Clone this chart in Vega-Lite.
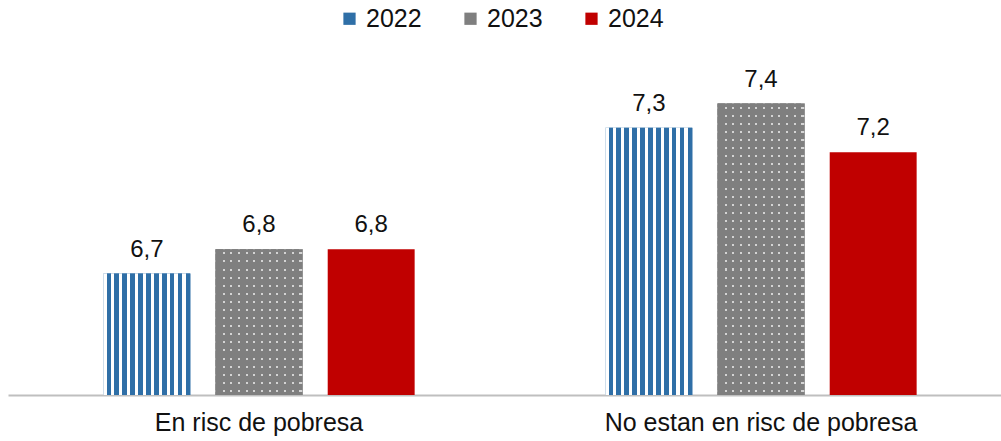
{
  "$schema": "https://vega.github.io/schema/vega-lite/v6.json",
  "width": 1004,
  "height": 340,
  "autosize": "none",
  "padding": {"left": 8, "right": -11, "top": 55, "bottom": 46},
  "background": "#ffffff",
  "data": {"values": [
    {"cat": "En risc de pobresa", "year": "2022", "value": 6.7},
    {"cat": "En risc de pobresa", "year": "2023", "value": 6.8},
    {"cat": "En risc de pobresa", "year": "2024", "value": 6.8},
    {"cat": "No estan en risc de pobresa", "year": "2022", "value": 7.3},
    {"cat": "No estan en risc de pobresa", "year": "2023", "value": 7.4},
    {"cat": "No estan en risc de pobresa", "year": "2024", "value": 7.2}
  ]},
  "encoding": {
    "x": {"field": "cat", "type": "nominal", "sort": null,
      "scale": {"paddingInner": 0, "paddingOuter": 0},
      "axis": {"title": null, "domain": true, "domainColor": "#BFBFBF", "domainWidth": 2, "ticks": false, "labelFontSize": 25, "labelPadding": 15, "labelAngle": 0, "labelColor": "#111111", "labelFont": "Liberation Sans", "labelLimit": 600, "grid": false}},
    "xOffset": {"field": "year", "type": "nominal", "sort": null,
      "scale": {"paddingInner": 0.225, "paddingOuter": 0.85}},
    "y": {"field": "value", "type": "quantitative",
      "scale": {"domain": [6.2, 7.6], "zero": false, "nice": false},
      "axis": null},
    "y2": {"datum": 6.2}
  },
  "layer": [
    {
      "mark": {"type": "bar"},
      "encoding": {
        "color": {"field": "year", "type": "nominal",
          "scale": {"domain": ["2022", "2023", "2024"], "range": ["#2F6FA7", "#7F7F7F", "#C00000"]},
          "legend": {"title": null, "orient": "none", "legendX": 329, "legendY": -49, "direction": "horizontal", "symbolType": "square", "symbolSize": 150, "symbolStrokeWidth": 0, "labelFontSize": 25, "labelFont": "Liberation Sans", "labelColor": "#111111", "columnPadding": 36, "labelOffset": 4}}
      }
    },
    {
      "transform": [{"filter": "datum.year === '2022'"}],
      "mark": {"type": "bar", "fill": {"gradient": "linear", "x1": 0, "y1": 0, "x2": 1, "y2": 0, "stops": [
        {"offset": 0, "color": "#ffffff"}, {"offset": 0.0364, "color": "#ffffff"}, {"offset": 0.0364, "color": "#2F6FA7"}, {"offset": 0.0909, "color": "#2F6FA7"},
        {"offset": 0.0909, "color": "#ffffff"}, {"offset": 0.1273, "color": "#ffffff"}, {"offset": 0.1273, "color": "#2F6FA7"}, {"offset": 0.1818, "color": "#2F6FA7"},
        {"offset": 0.1818, "color": "#ffffff"}, {"offset": 0.2182, "color": "#ffffff"}, {"offset": 0.2182, "color": "#2F6FA7"}, {"offset": 0.2727, "color": "#2F6FA7"},
        {"offset": 0.2727, "color": "#ffffff"}, {"offset": 0.3091, "color": "#ffffff"}, {"offset": 0.3091, "color": "#2F6FA7"}, {"offset": 0.3636, "color": "#2F6FA7"},
        {"offset": 0.3636, "color": "#ffffff"}, {"offset": 0.4, "color": "#ffffff"}, {"offset": 0.4, "color": "#2F6FA7"}, {"offset": 0.4545, "color": "#2F6FA7"},
        {"offset": 0.4545, "color": "#ffffff"}, {"offset": 0.4909, "color": "#ffffff"}, {"offset": 0.4909, "color": "#2F6FA7"}, {"offset": 0.5455, "color": "#2F6FA7"},
        {"offset": 0.5455, "color": "#ffffff"}, {"offset": 0.5818, "color": "#ffffff"}, {"offset": 0.5818, "color": "#2F6FA7"}, {"offset": 0.6364, "color": "#2F6FA7"},
        {"offset": 0.6364, "color": "#ffffff"}, {"offset": 0.6727, "color": "#ffffff"}, {"offset": 0.6727, "color": "#2F6FA7"}, {"offset": 0.7273, "color": "#2F6FA7"},
        {"offset": 0.7273, "color": "#ffffff"}, {"offset": 0.7636, "color": "#ffffff"}, {"offset": 0.7636, "color": "#2F6FA7"}, {"offset": 0.8182, "color": "#2F6FA7"},
        {"offset": 0.8182, "color": "#ffffff"}, {"offset": 0.8545, "color": "#ffffff"}, {"offset": 0.8545, "color": "#2F6FA7"}, {"offset": 0.9091, "color": "#2F6FA7"},
        {"offset": 0.9091, "color": "#ffffff"}, {"offset": 0.9455, "color": "#ffffff"}, {"offset": 0.9455, "color": "#2F6FA7"}, {"offset": 1, "color": "#2F6FA7"}
      ]}}
    },
    {
      "transform": [{"filter": "datum.year === '2023'"}],
      "mark": {"type": "bar", "fill": {"gradient": "linear", "x1": 0, "y1": 0, "x2": 1, "y2": 0, "stops": [
        {"offset": 0, "color": "#7F7F7F"},
        {"offset": 0.081, "color": "#7F7F7F"}, {"offset": 0.081, "color": "#D4D4D4"}, {"offset": 0.105, "color": "#D4D4D4"}, {"offset": 0.105, "color": "#7F7F7F"},
        {"offset": 0.169, "color": "#7F7F7F"}, {"offset": 0.169, "color": "#D4D4D4"}, {"offset": 0.193, "color": "#D4D4D4"}, {"offset": 0.193, "color": "#7F7F7F"},
        {"offset": 0.258, "color": "#7F7F7F"}, {"offset": 0.258, "color": "#D4D4D4"}, {"offset": 0.282, "color": "#D4D4D4"}, {"offset": 0.282, "color": "#7F7F7F"},
        {"offset": 0.346, "color": "#7F7F7F"}, {"offset": 0.346, "color": "#D4D4D4"}, {"offset": 0.370, "color": "#D4D4D4"}, {"offset": 0.370, "color": "#7F7F7F"},
        {"offset": 0.435, "color": "#7F7F7F"}, {"offset": 0.435, "color": "#D4D4D4"}, {"offset": 0.459, "color": "#D4D4D4"}, {"offset": 0.459, "color": "#7F7F7F"},
        {"offset": 0.523, "color": "#7F7F7F"}, {"offset": 0.523, "color": "#D4D4D4"}, {"offset": 0.547, "color": "#D4D4D4"}, {"offset": 0.547, "color": "#7F7F7F"},
        {"offset": 0.611, "color": "#7F7F7F"}, {"offset": 0.611, "color": "#D4D4D4"}, {"offset": 0.635, "color": "#D4D4D4"}, {"offset": 0.635, "color": "#7F7F7F"},
        {"offset": 0.700, "color": "#7F7F7F"}, {"offset": 0.700, "color": "#D4D4D4"}, {"offset": 0.724, "color": "#D4D4D4"}, {"offset": 0.724, "color": "#7F7F7F"},
        {"offset": 0.788, "color": "#7F7F7F"}, {"offset": 0.788, "color": "#D4D4D4"}, {"offset": 0.812, "color": "#D4D4D4"}, {"offset": 0.812, "color": "#7F7F7F"},
        {"offset": 0.877, "color": "#7F7F7F"}, {"offset": 0.877, "color": "#D4D4D4"}, {"offset": 0.901, "color": "#D4D4D4"}, {"offset": 0.901, "color": "#7F7F7F"},
        {"offset": 0.965, "color": "#7F7F7F"}, {"offset": 0.965, "color": "#D4D4D4"}, {"offset": 0.989, "color": "#D4D4D4"}, {"offset": 0.989, "color": "#7F7F7F"},
        {"offset": 1, "color": "#7F7F7F"}
      ]}}
    },
    {
      "transform": [{"filter": "datum.year === '2023' && datum.cat === 'En risc de pobresa'"}],
      "mark": {"type": "bar", "fill": {"gradient": "linear", "x1": 0, "y1": 0, "x2": 0, "y2": 1, "stops": [
        {"offset": 0, "color": "#7F7F7F"},
        {"offset": 0.0209, "color": "#7F7F7F"}, {"offset": 0.0209, "color": "rgba(127,127,127,0)"}, {"offset": 0.0347, "color": "rgba(127,127,127,0)"}, {"offset": 0.0347, "color": "#7F7F7F"},
        {"offset": 0.0764, "color": "#7F7F7F"}, {"offset": 0.0764, "color": "rgba(127,127,127,0)"}, {"offset": 0.0902, "color": "rgba(127,127,127,0)"}, {"offset": 0.0902, "color": "#7F7F7F"},
        {"offset": 0.1320, "color": "#7F7F7F"}, {"offset": 0.1320, "color": "rgba(127,127,127,0)"}, {"offset": 0.1458, "color": "rgba(127,127,127,0)"}, {"offset": 0.1458, "color": "#7F7F7F"},
        {"offset": 0.1875, "color": "#7F7F7F"}, {"offset": 0.1875, "color": "rgba(127,127,127,0)"}, {"offset": 0.2013, "color": "rgba(127,127,127,0)"}, {"offset": 0.2013, "color": "#7F7F7F"},
        {"offset": 0.2431, "color": "#7F7F7F"}, {"offset": 0.2431, "color": "rgba(127,127,127,0)"}, {"offset": 0.2569, "color": "rgba(127,127,127,0)"}, {"offset": 0.2569, "color": "#7F7F7F"},
        {"offset": 0.2987, "color": "#7F7F7F"}, {"offset": 0.2987, "color": "rgba(127,127,127,0)"}, {"offset": 0.3125, "color": "rgba(127,127,127,0)"}, {"offset": 0.3125, "color": "#7F7F7F"},
        {"offset": 0.3542, "color": "#7F7F7F"}, {"offset": 0.3542, "color": "rgba(127,127,127,0)"}, {"offset": 0.3680, "color": "rgba(127,127,127,0)"}, {"offset": 0.3680, "color": "#7F7F7F"},
        {"offset": 0.4098, "color": "#7F7F7F"}, {"offset": 0.4098, "color": "rgba(127,127,127,0)"}, {"offset": 0.4236, "color": "rgba(127,127,127,0)"}, {"offset": 0.4236, "color": "#7F7F7F"},
        {"offset": 0.4653, "color": "#7F7F7F"}, {"offset": 0.4653, "color": "rgba(127,127,127,0)"}, {"offset": 0.4791, "color": "rgba(127,127,127,0)"}, {"offset": 0.4791, "color": "#7F7F7F"},
        {"offset": 0.5209, "color": "#7F7F7F"}, {"offset": 0.5209, "color": "rgba(127,127,127,0)"}, {"offset": 0.5347, "color": "rgba(127,127,127,0)"}, {"offset": 0.5347, "color": "#7F7F7F"},
        {"offset": 0.5764, "color": "#7F7F7F"}, {"offset": 0.5764, "color": "rgba(127,127,127,0)"}, {"offset": 0.5902, "color": "rgba(127,127,127,0)"}, {"offset": 0.5902, "color": "#7F7F7F"},
        {"offset": 0.6320, "color": "#7F7F7F"}, {"offset": 0.6320, "color": "rgba(127,127,127,0)"}, {"offset": 0.6458, "color": "rgba(127,127,127,0)"}, {"offset": 0.6458, "color": "#7F7F7F"},
        {"offset": 0.6875, "color": "#7F7F7F"}, {"offset": 0.6875, "color": "rgba(127,127,127,0)"}, {"offset": 0.7013, "color": "rgba(127,127,127,0)"}, {"offset": 0.7013, "color": "#7F7F7F"},
        {"offset": 0.7431, "color": "#7F7F7F"}, {"offset": 0.7431, "color": "rgba(127,127,127,0)"}, {"offset": 0.7569, "color": "rgba(127,127,127,0)"}, {"offset": 0.7569, "color": "#7F7F7F"},
        {"offset": 0.7987, "color": "#7F7F7F"}, {"offset": 0.7987, "color": "rgba(127,127,127,0)"}, {"offset": 0.8125, "color": "rgba(127,127,127,0)"}, {"offset": 0.8125, "color": "#7F7F7F"},
        {"offset": 0.8542, "color": "#7F7F7F"}, {"offset": 0.8542, "color": "rgba(127,127,127,0)"}, {"offset": 0.8680, "color": "rgba(127,127,127,0)"}, {"offset": 0.8680, "color": "#7F7F7F"},
        {"offset": 0.9098, "color": "#7F7F7F"}, {"offset": 0.9098, "color": "rgba(127,127,127,0)"}, {"offset": 0.9236, "color": "rgba(127,127,127,0)"}, {"offset": 0.9236, "color": "#7F7F7F"},
        {"offset": 0.9653, "color": "#7F7F7F"}, {"offset": 0.9653, "color": "rgba(127,127,127,0)"}, {"offset": 0.9791, "color": "rgba(127,127,127,0)"}, {"offset": 0.9791, "color": "#7F7F7F"},
        {"offset": 1, "color": "#7F7F7F"}
      ]}}
    },
    {
      "transform": [{"filter": "datum.year === '2023' && datum.cat === 'No estan en risc de pobresa'"}],
      "mark": {"type": "bar", "fill": {"gradient": "linear", "x1": 0, "y1": 0, "x2": 0, "y2": 1, "stops": [
        {"offset": 0, "color": "#7F7F7F"},
        {"offset": 0.0104, "color": "#7F7F7F"}, {"offset": 0.0104, "color": "rgba(127,127,127,0)"}, {"offset": 0.0174, "color": "rgba(127,127,127,0)"}, {"offset": 0.0174, "color": "#7F7F7F"},
        {"offset": 0.0382, "color": "#7F7F7F"}, {"offset": 0.0382, "color": "rgba(127,127,127,0)"}, {"offset": 0.0452, "color": "rgba(127,127,127,0)"}, {"offset": 0.0452, "color": "#7F7F7F"},
        {"offset": 0.0659, "color": "#7F7F7F"}, {"offset": 0.0659, "color": "rgba(127,127,127,0)"}, {"offset": 0.0729, "color": "rgba(127,127,127,0)"}, {"offset": 0.0729, "color": "#7F7F7F"},
        {"offset": 0.0937, "color": "#7F7F7F"}, {"offset": 0.0937, "color": "rgba(127,127,127,0)"}, {"offset": 0.1007, "color": "rgba(127,127,127,0)"}, {"offset": 0.1007, "color": "#7F7F7F"},
        {"offset": 0.1215, "color": "#7F7F7F"}, {"offset": 0.1215, "color": "rgba(127,127,127,0)"}, {"offset": 0.1285, "color": "rgba(127,127,127,0)"}, {"offset": 0.1285, "color": "#7F7F7F"},
        {"offset": 0.1493, "color": "#7F7F7F"}, {"offset": 0.1493, "color": "rgba(127,127,127,0)"}, {"offset": 0.1563, "color": "rgba(127,127,127,0)"}, {"offset": 0.1563, "color": "#7F7F7F"},
        {"offset": 0.1771, "color": "#7F7F7F"}, {"offset": 0.1771, "color": "rgba(127,127,127,0)"}, {"offset": 0.1841, "color": "rgba(127,127,127,0)"}, {"offset": 0.1841, "color": "#7F7F7F"},
        {"offset": 0.2048, "color": "#7F7F7F"}, {"offset": 0.2048, "color": "rgba(127,127,127,0)"}, {"offset": 0.2118, "color": "rgba(127,127,127,0)"}, {"offset": 0.2118, "color": "#7F7F7F"},
        {"offset": 0.2326, "color": "#7F7F7F"}, {"offset": 0.2326, "color": "rgba(127,127,127,0)"}, {"offset": 0.2396, "color": "rgba(127,127,127,0)"}, {"offset": 0.2396, "color": "#7F7F7F"},
        {"offset": 0.2604, "color": "#7F7F7F"}, {"offset": 0.2604, "color": "rgba(127,127,127,0)"}, {"offset": 0.2674, "color": "rgba(127,127,127,0)"}, {"offset": 0.2674, "color": "#7F7F7F"},
        {"offset": 0.2882, "color": "#7F7F7F"}, {"offset": 0.2882, "color": "rgba(127,127,127,0)"}, {"offset": 0.2952, "color": "rgba(127,127,127,0)"}, {"offset": 0.2952, "color": "#7F7F7F"},
        {"offset": 0.3159, "color": "#7F7F7F"}, {"offset": 0.3159, "color": "rgba(127,127,127,0)"}, {"offset": 0.3229, "color": "rgba(127,127,127,0)"}, {"offset": 0.3229, "color": "#7F7F7F"},
        {"offset": 0.3437, "color": "#7F7F7F"}, {"offset": 0.3437, "color": "rgba(127,127,127,0)"}, {"offset": 0.3507, "color": "rgba(127,127,127,0)"}, {"offset": 0.3507, "color": "#7F7F7F"},
        {"offset": 0.3715, "color": "#7F7F7F"}, {"offset": 0.3715, "color": "rgba(127,127,127,0)"}, {"offset": 0.3785, "color": "rgba(127,127,127,0)"}, {"offset": 0.3785, "color": "#7F7F7F"},
        {"offset": 0.3993, "color": "#7F7F7F"}, {"offset": 0.3993, "color": "rgba(127,127,127,0)"}, {"offset": 0.4063, "color": "rgba(127,127,127,0)"}, {"offset": 0.4063, "color": "#7F7F7F"},
        {"offset": 0.4271, "color": "#7F7F7F"}, {"offset": 0.4271, "color": "rgba(127,127,127,0)"}, {"offset": 0.4341, "color": "rgba(127,127,127,0)"}, {"offset": 0.4341, "color": "#7F7F7F"},
        {"offset": 0.4548, "color": "#7F7F7F"}, {"offset": 0.4548, "color": "rgba(127,127,127,0)"}, {"offset": 0.4618, "color": "rgba(127,127,127,0)"}, {"offset": 0.4618, "color": "#7F7F7F"},
        {"offset": 0.4826, "color": "#7F7F7F"}, {"offset": 0.4826, "color": "rgba(127,127,127,0)"}, {"offset": 0.4896, "color": "rgba(127,127,127,0)"}, {"offset": 0.4896, "color": "#7F7F7F"},
        {"offset": 0.5104, "color": "#7F7F7F"}, {"offset": 0.5104, "color": "rgba(127,127,127,0)"}, {"offset": 0.5174, "color": "rgba(127,127,127,0)"}, {"offset": 0.5174, "color": "#7F7F7F"},
        {"offset": 0.5382, "color": "#7F7F7F"}, {"offset": 0.5382, "color": "rgba(127,127,127,0)"}, {"offset": 0.5452, "color": "rgba(127,127,127,0)"}, {"offset": 0.5452, "color": "#7F7F7F"},
        {"offset": 0.5659, "color": "#7F7F7F"}, {"offset": 0.5659, "color": "rgba(127,127,127,0)"}, {"offset": 0.5729, "color": "rgba(127,127,127,0)"}, {"offset": 0.5729, "color": "#7F7F7F"},
        {"offset": 0.5937, "color": "#7F7F7F"}, {"offset": 0.5937, "color": "rgba(127,127,127,0)"}, {"offset": 0.6007, "color": "rgba(127,127,127,0)"}, {"offset": 0.6007, "color": "#7F7F7F"},
        {"offset": 0.6215, "color": "#7F7F7F"}, {"offset": 0.6215, "color": "rgba(127,127,127,0)"}, {"offset": 0.6285, "color": "rgba(127,127,127,0)"}, {"offset": 0.6285, "color": "#7F7F7F"},
        {"offset": 0.6493, "color": "#7F7F7F"}, {"offset": 0.6493, "color": "rgba(127,127,127,0)"}, {"offset": 0.6563, "color": "rgba(127,127,127,0)"}, {"offset": 0.6563, "color": "#7F7F7F"},
        {"offset": 0.6771, "color": "#7F7F7F"}, {"offset": 0.6771, "color": "rgba(127,127,127,0)"}, {"offset": 0.6841, "color": "rgba(127,127,127,0)"}, {"offset": 0.6841, "color": "#7F7F7F"},
        {"offset": 0.7048, "color": "#7F7F7F"}, {"offset": 0.7048, "color": "rgba(127,127,127,0)"}, {"offset": 0.7118, "color": "rgba(127,127,127,0)"}, {"offset": 0.7118, "color": "#7F7F7F"},
        {"offset": 0.7326, "color": "#7F7F7F"}, {"offset": 0.7326, "color": "rgba(127,127,127,0)"}, {"offset": 0.7396, "color": "rgba(127,127,127,0)"}, {"offset": 0.7396, "color": "#7F7F7F"},
        {"offset": 0.7604, "color": "#7F7F7F"}, {"offset": 0.7604, "color": "rgba(127,127,127,0)"}, {"offset": 0.7674, "color": "rgba(127,127,127,0)"}, {"offset": 0.7674, "color": "#7F7F7F"},
        {"offset": 0.7882, "color": "#7F7F7F"}, {"offset": 0.7882, "color": "rgba(127,127,127,0)"}, {"offset": 0.7952, "color": "rgba(127,127,127,0)"}, {"offset": 0.7952, "color": "#7F7F7F"},
        {"offset": 0.8159, "color": "#7F7F7F"}, {"offset": 0.8159, "color": "rgba(127,127,127,0)"}, {"offset": 0.8229, "color": "rgba(127,127,127,0)"}, {"offset": 0.8229, "color": "#7F7F7F"},
        {"offset": 0.8437, "color": "#7F7F7F"}, {"offset": 0.8437, "color": "rgba(127,127,127,0)"}, {"offset": 0.8507, "color": "rgba(127,127,127,0)"}, {"offset": 0.8507, "color": "#7F7F7F"},
        {"offset": 0.8715, "color": "#7F7F7F"}, {"offset": 0.8715, "color": "rgba(127,127,127,0)"}, {"offset": 0.8785, "color": "rgba(127,127,127,0)"}, {"offset": 0.8785, "color": "#7F7F7F"},
        {"offset": 0.8993, "color": "#7F7F7F"}, {"offset": 0.8993, "color": "rgba(127,127,127,0)"}, {"offset": 0.9063, "color": "rgba(127,127,127,0)"}, {"offset": 0.9063, "color": "#7F7F7F"},
        {"offset": 0.9271, "color": "#7F7F7F"}, {"offset": 0.9271, "color": "rgba(127,127,127,0)"}, {"offset": 0.9341, "color": "rgba(127,127,127,0)"}, {"offset": 0.9341, "color": "#7F7F7F"},
        {"offset": 0.9548, "color": "#7F7F7F"}, {"offset": 0.9548, "color": "rgba(127,127,127,0)"}, {"offset": 0.9618, "color": "rgba(127,127,127,0)"}, {"offset": 0.9618, "color": "#7F7F7F"},
        {"offset": 0.9826, "color": "#7F7F7F"}, {"offset": 0.9826, "color": "rgba(127,127,127,0)"}, {"offset": 0.9896, "color": "rgba(127,127,127,0)"}, {"offset": 0.9896, "color": "#7F7F7F"},
        {"offset": 1, "color": "#7F7F7F"}
      ]}}
    },
    {
      "mark": {"type": "text", "baseline": "alphabetic", "dy": -17, "fontSize": 24, "font": "Liberation Sans", "fill": "#111111"},
      "encoding": {
        "text": {"field": "value", "type": "quantitative", "format": ".1f"}
      }
    }
  ],
  "config": {
    "view": {"stroke": null},
    "locale": {"number": {"decimal": ",", "thousands": ".", "grouping": [3], "currency": ["", " €"]}}
  }
}
